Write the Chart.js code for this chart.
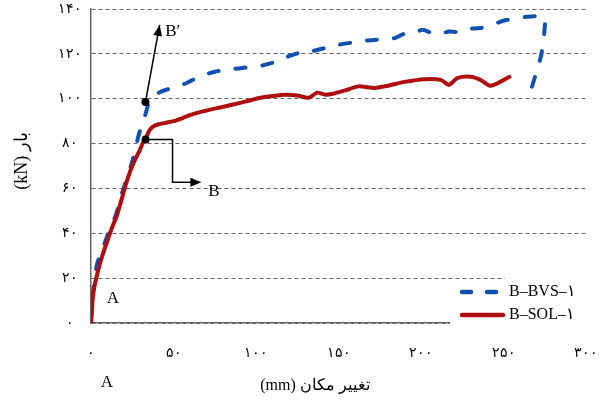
<!DOCTYPE html>
<html>
<head>
<meta charset="utf-8">
<script src="https://cdn.jsdelivr.net/npm/chart.js@4"></script>
<style>
  html, body { margin: 0; padding: 0; background: #fff; }
  canvas { display: block; }
</style>
</head>
<body>
<canvas id="chart" width="612" height="417"></canvas>
<script>
// B-BVS-1 (dashed blue): displacement (mm) / load (kN)
var bvsX = [0, 1, 3.6, 7, 11, 15, 18, 22, 25, 29, 33, 35, 38, 42, 50, 58, 66, 75, 84, 95, 105, 112, 120, 126, 133, 142, 150, 158, 168, 176, 184, 190, 196, 201, 206, 212, 217, 222, 228, 236, 243, 251, 258, 264, 270, 275, 273, 270, 265];
var bvsY = [0, 12, 26, 33, 41, 48, 56, 65, 72, 84, 93, 98, 101, 103, 105, 107, 110, 112, 113, 114, 115, 116.5, 119, 120.4, 121, 122.7, 124, 125, 126, 126.5, 127, 129, 129.5, 130.7, 129.5, 129, 130, 129.8, 131.2, 131.5, 133, 135, 135.8, 136.5, 136.8, 136, 120, 112, 100];

// B-SOL-1 (solid red)
var solX = [0, 0.5, 1, 2, 3.5, 6, 9.6, 13, 15.5, 18.5, 21.5, 25, 29.5, 31.5, 33.5, 35.5, 37.5, 41, 45.5, 50, 55.5, 60, 66, 75, 85.5, 94, 102, 110, 118, 125, 132, 137, 142, 148, 154, 162, 172, 180, 190, 202, 212, 217, 222, 230, 236, 242, 248, 253.6];
var solY = [0, 5, 10.7, 16, 21, 28, 36, 43, 47.6, 55, 62.7, 70, 77, 80.4, 83, 86, 87.5, 88.6, 89.3, 90, 91.4, 92.7, 94, 95.6, 97.3, 98.8, 100.3, 101.2, 101.8, 101.4, 100.4, 102.7, 101.8, 102.5, 103.7, 105.5, 104.8, 105.8, 107.5, 108.7, 108.4, 106.2, 109.2, 109.8, 108.4, 105.8, 107.5, 109.8];

var seriesNames = ['B–BVS–۱', 'B–SOL–۱'];
var xTickLabels = ['۰', '۵۰', '۱۰۰', '۱۵۰', '۲۰۰', '۲۵۰', '۳۰۰'];
var yTickLabels = ['۰', '۲۰', '۴۰', '۶۰', '۸۰', '۱۰۰', '۱۲۰', '۱۴۰'];
var xTitle = '(mm) تغییر مکان';
var yTitle = '(kN) بار';

var serif = "'Liberation Serif', 'DejaVu Serif', serif";
var blue = '#1150b3';
var red = '#b00d0d';

function toPoints(xs, ys) {
    return xs.map(function (x, i) { return { x: x, y: ys[i] }; });
}

function arrowHead(ctx, x1, y1, x2, y2) {
    var a = Math.atan2(y2 - y1, x2 - x1);
    var len = 11, w = 4.5;
    ctx.beginPath();
    ctx.moveTo(x2, y2);
    ctx.lineTo(x2 - len * Math.cos(a) + w * Math.sin(a), y2 - len * Math.sin(a) - w * Math.cos(a));
    ctx.lineTo(x2 - len * Math.cos(a) - w * Math.sin(a), y2 - len * Math.sin(a) + w * Math.cos(a));
    ctx.closePath();
    ctx.fill();
}

var annotations = {
    id: 'annotations',
    afterDatasetsDraw: function (chart) {
        var ctx = chart.ctx;
        var xs = chart.scales.x, ys = chart.scales.y;
        function px(v) { return xs.getPixelForValue(v); }
        function py(v) { return ys.getPixelForValue(v); }

        ctx.save();
        ctx.strokeStyle = '#000';
        ctx.fillStyle = '#000';
        ctx.lineWidth = 1.5;

        // B' arrow
        var bx1 = px(33), by1 = py(98.5), bx2 = px(41.6), by2 = py(132.9);
        ctx.beginPath();
        ctx.moveTo(bx1, by1);
        ctx.lineTo(bx2, by2);
        ctx.stroke();
        arrowHead(ctx, bx1, by1, bx2, by2);
        ctx.beginPath();
        ctx.arc(bx1, by1, 4, 0, Math.PI * 2);
        ctx.fill();

        // B elbow arrow
        ctx.beginPath();
        ctx.moveTo(px(33.1), py(81.8));
        ctx.lineTo(px(49.4), py(81.8));
        ctx.lineTo(px(49.4), py(62.7));
        ctx.lineTo(px(64), py(62.7));
        ctx.stroke();
        arrowHead(ctx, px(49.4), py(62.7), px(66.9), py(62.7));
        ctx.beginPath();
        ctx.arc(px(33.1), py(81.8), 4, 0, Math.PI * 2);
        ctx.fill();

        ctx.font = '17px ' + serif;
        ctx.textBaseline = 'middle';
        ctx.textAlign = 'left';
        ctx.fillText('B′', px(45), py(130));
        ctx.fillText('B', px(71), py(58.7));
        ctx.textAlign = 'center';
        ctx.fillText('A', px(13.3), py(10.7));
        ctx.restore();
    },
    afterDraw: function (chart) {
        var ctx = chart.ctx;
        ctx.save();
        // legend box
        ctx.fillStyle = '#fff';
        ctx.fillRect(505, 272, 107, 63);
        ctx.fillRect(450, 300, 162, 35);

        ctx.lineCap = 'round';
        ctx.lineWidth = 4.5;
        ctx.strokeStyle = blue;
        ctx.setLineDash([9, 16]);
        ctx.beginPath();
        ctx.moveTo(462, 292);
        ctx.lineTo(498, 292);
        ctx.stroke();
        ctx.setLineDash([]);
        ctx.strokeStyle = red;
        ctx.beginPath();
        ctx.moveTo(462, 315);
        ctx.lineTo(503, 315);
        ctx.stroke();

        ctx.fillStyle = '#000';
        ctx.font = '16px ' + serif;
        ctx.textBaseline = 'middle';
        ctx.textAlign = 'left';
        ctx.fillText(seriesNames[0], 509, 292);
        ctx.fillText(seriesNames[1], 509, 315);

        // axis titles
        ctx.font = '16px ' + serif;
        ctx.textAlign = 'center';
        ctx.fillText(xTitle, 315, 386);
        ctx.save();
        ctx.translate(22, 161);
        ctx.rotate(-Math.PI / 2);
        ctx.font = '18px ' + serif;
        ctx.fillText(yTitle, 0, 0);
        ctx.restore();

        ctx.font = '17px ' + serif;
        ctx.fillText('A', 107, 383);
        ctx.restore();
    }
};

var ctx = document.getElementById('chart').getContext('2d');
var chart = new Chart(ctx, {
    type: 'line',
    data: {
        datasets: [{
            label: seriesNames[0],
            data: toPoints(bvsX, bvsY),
            borderColor: blue,
            borderWidth: 4,
            borderDash: [10, 17],
            borderCapStyle: 'round',
            pointRadius: 0,
            tension: 0.25,
            fill: false,
            order: 1
        },
        {
            label: seriesNames[1],
            data: toPoints(solX, solY),
            borderColor: red,
            borderWidth: 4,
            borderCapStyle: 'round',
            pointRadius: 0,
            tension: 0.25,
            fill: false,
            order: 0
        }]
    },
    options: {
        responsive: false,
        animation: false,
        layout: { padding: { top: 9, right: 23, left: 0, bottom: 0 } },
        scales: {
            x: {
                type: 'linear',
                min: 0,
                max: 300,
                afterFit: function (scale) { scale.height = 94; },
                grid: { display: false },
                border: { display: true, color: '#666', width: 1.5 },
                ticks: {
                    stepSize: 50,
                    padding: 14,
                    color: '#000',
                    maxRotation: 0,
                    font: { family: serif, size: 14 },
                    callback: function (value) { return xTickLabels[value / 50]; }
                }
            },
            y: {
                min: 0,
                max: 140,
                afterFit: function (scale) {
                    scale.width = 91;
                    scale.paddingTop = 0;
                    scale.paddingBottom = 0;
                },
                grid: { color: '#666', lineWidth: 1, drawTicks: false },
                border: { display: true, color: '#666', width: 1.5, dash: [4, 3] },
                ticks: {
                    stepSize: 20,
                    padding: 9,
                    crossAlign: 'center',
                    color: '#000',
                    font: { family: serif, size: 14 },
                    callback: function (value) { return yTickLabels[value / 20]; }
                }
            }
        },
        plugins: {
            legend: { display: false },
            tooltip: { enabled: false }
        }
    },
    plugins: [annotations]
});
</script>
</body>
</html>
